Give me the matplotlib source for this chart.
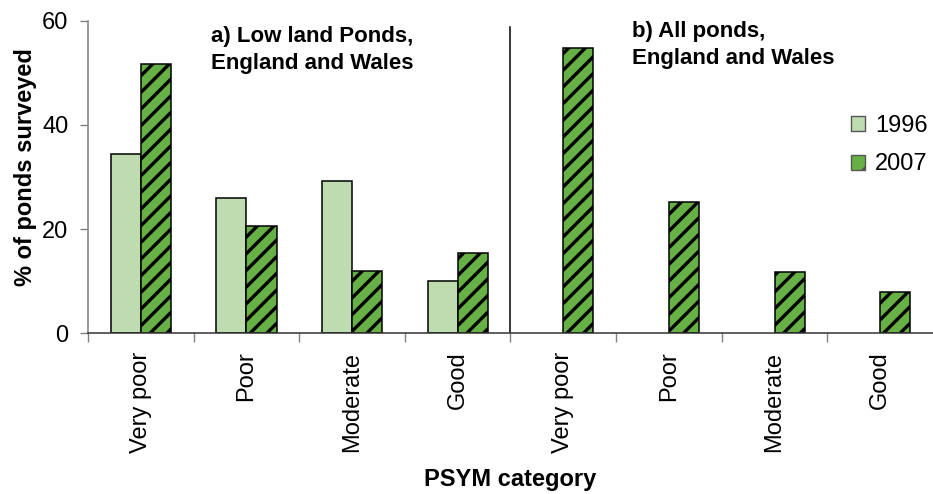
import numpy as np
import matplotlib
matplotlib.use("Agg")
import matplotlib.pyplot as plt
from matplotlib.patches import Patch

plt.rcParams['font.family'] = ['Liberation Sans', 'DejaVu Sans']
plt.rcParams['hatch.linewidth'] = 2.4

# data
categories = ['Very poor', 'Poor', 'Moderate', 'Good',
              'Very poor', 'Poor', 'Moderate', 'Good']
pct_1996 = [34.4, 26.0, 29.3, 10.1, 0, 0, 0, 0]
pct_2007 = [51.7, 20.6, 12.0, 15.5, 54.8, 25.2, 11.8, 8.0]
series = ['1996', '2007']

c_1996 = '#bfdcb1'
c_2007 = '#66b046'

fig = plt.figure(figsize=(9.33, 4.94), dpi=100)
ax = fig.add_axes([0.0943, 0.325, 0.9057, 0.633])

x = np.arange(len(categories))
w = 0.285
v96 = np.array(pct_1996)
keep = v96 > 0   # no 1996 survey for panel b
ax.bar(x[keep] - w/2, v96[keep], w, color=c_1996, edgecolor='black', linewidth=1.1)
ax.bar(x + w/2, pct_2007, w, color=c_2007, edgecolor='black', linewidth=1.1,
       hatch='//')

ax.set_xlim(-0.5, 7.5)
ax.set_ylim(0, 60)
ax.set_yticks([0, 20, 40, 60])

ax.set_xticks(x)
ax.set_xticklabels(categories, rotation=90, fontsize=17, va='top')
ax.set_xticks(np.arange(-0.5, 7.0, 1.0), minor=True)
ax.tick_params(axis='x', which='major', length=0, pad=13)
ax.tick_params(axis='x', which='minor', length=6.5, color='#808080', width=1)
ax.tick_params(axis='y', length=6, color='#808080', width=1, labelsize=17, pad=8)

for s in ['top', 'right']:
    ax.spines[s].set_visible(False)
ax.spines['left'].set_color('#808080')
ax.spines['bottom'].set_color('#333333')
ax.spines['left'].set_linewidth(1.1)
ax.spines['bottom'].set_linewidth(1.1)

# divider between panels a and b
ax.plot([3.5, 3.5], [0, 58.8], color='black', lw=1.1)

ax.text(0.66, 59.0, 'a) Low land Ponds,\nEngland and Wales', fontsize=16,
        fontweight='bold', va='top', ha='left', linespacing=1.35)
ax.text(4.65, 59.9, 'b) All ponds,\nEngland and Wales', fontsize=16,
        fontweight='bold', va='top', ha='left', linespacing=1.33)

ax.set_ylabel('% of ponds surveyed', fontsize=17, fontweight='bold')
ax.yaxis.set_label_coords(-0.060, 0.532)
ax.set_xlabel('PSYM category', fontsize=17, fontweight='bold')
ax.xaxis.set_label_coords(0.5, -0.43)

handles = [Patch(facecolor=c_1996, edgecolor='#555555', linewidth=1),
           Patch(facecolor=c_2007, edgecolor='#555555', linewidth=1, hatch='/')]
fig.legend(handles, series, loc='center left', bbox_to_anchor=(0.912, 0.706),
           frameon=False, fontsize=17, handlelength=0.6, handleheight=0.6,
           handletextpad=0.42, labelspacing=0.7, borderpad=0, borderaxespad=0)

fig.savefig('out.png', dpi=100)
